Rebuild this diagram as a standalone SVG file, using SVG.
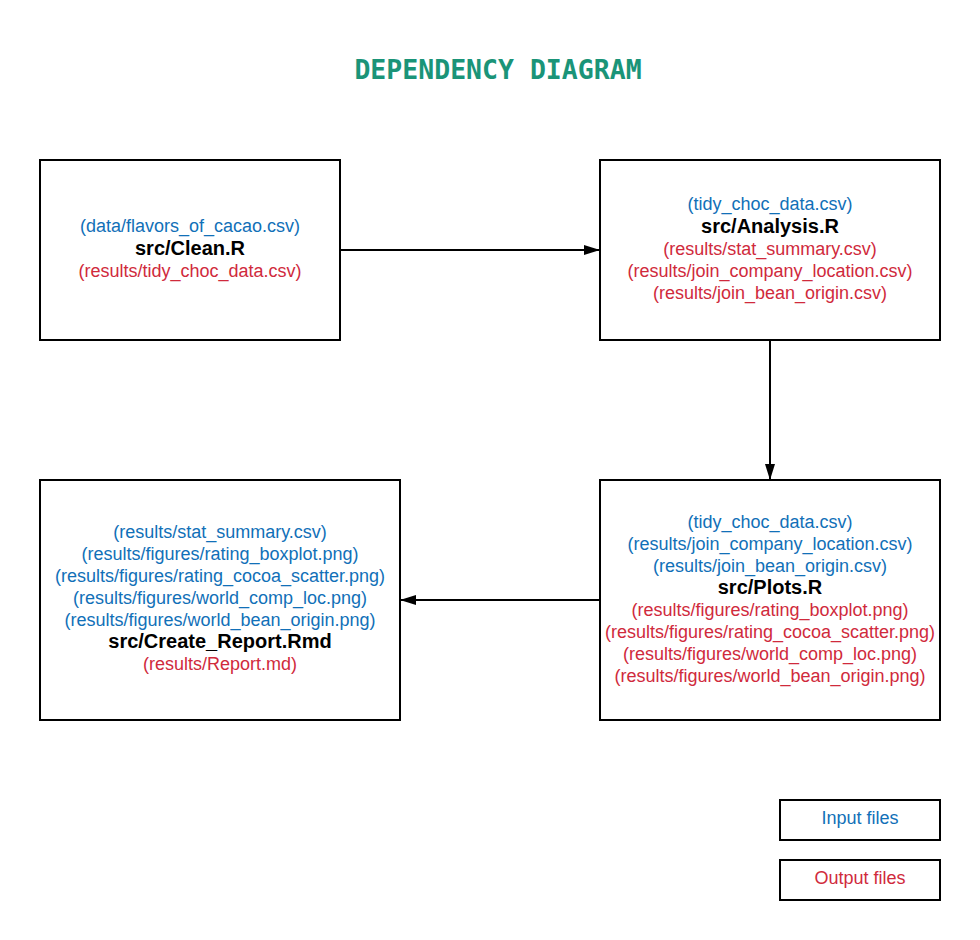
<svg xmlns="http://www.w3.org/2000/svg" width="980" height="940" viewBox="0 0 980 940">
<style>
.box{fill:#fff;stroke:#000;stroke-width:2}
text{font-family:"Liberation Sans",Arial,sans-serif;font-size:18px;text-anchor:middle}
.in{fill:#1170b8}
.out{fill:#d02a3c}
.main{fill:#000;font-weight:bold;font-size:20px}
.title{font-family:"DejaVu Sans Mono","Liberation Mono",monospace;font-weight:bold;font-size:26.5px;fill:#1a9478}
.conn{stroke:#000;stroke-width:2;fill:none}
</style>
<defs>
<marker id="ah" viewBox="0 0 16 10" refX="16" refY="5" markerWidth="16" markerHeight="10" markerUnits="userSpaceOnUse" orient="auto">
<path d="M0,0 L16,5 L0,10 Z" fill="#000"/>
</marker>
</defs>
<rect width="980" height="940" fill="#fff"/>
<text class="title" x="498" y="78.5">DEPENDENCY DIAGRAM</text>
<g id="connectors">
<line class="conn" x1="341" y1="250" x2="600" y2="250" marker-end="url(#ah)"/>
<line class="conn" x1="770" y1="341" x2="770" y2="480" marker-end="url(#ah)"/>
<line class="conn" x1="599" y1="600" x2="400" y2="600" marker-end="url(#ah)"/>
</g>
<g id="clean">
<rect class="box" x="40" y="160" width="300" height="180"/>
<text class="in" x="190" y="231.5">(data/flavors_of_cacao.csv)</text>
<text class="main" x="190" y="254.5">src/Clean.R</text>
<text class="out" x="190" y="276.5">(results/tidy_choc_data.csv)</text>
</g>
<g id="analysis">
<rect class="box" x="600" y="160" width="340" height="180"/>
<text class="in" x="770" y="209.5">(tidy_choc_data.csv)</text>
<text class="main" x="770" y="232.5">src/Analysis.R</text>
<text class="out" x="770" y="254.5">(results/stat_summary.csv)</text>
<text class="out" x="770" y="276.5">(results/join_company_location.csv)</text>
<text class="out" x="770" y="298.5">(results/join_bean_origin.csv)</text>
</g>
<g id="plots">
<rect class="box" x="600" y="480" width="340" height="240"/>
<text class="in" x="770" y="527.5">(tidy_choc_data.csv)</text>
<text class="in" x="770" y="549.5">(results/join_company_location.csv)</text>
<text class="in" x="770" y="571.5">(results/join_bean_origin.csv)</text>
<text class="main" x="770" y="593.5">src/Plots.R</text>
<text class="out" x="770" y="615.5">(results/figures/rating_boxplot.png)</text>
<text class="out" x="770" y="637.5">(results/figures/rating_cocoa_scatter.png)</text>
<text class="out" x="770" y="659.5">(results/figures/world_comp_loc.png)</text>
<text class="out" x="770" y="681.5">(results/figures/world_bean_origin.png)</text>
</g>
<g id="report">
<rect class="box" x="40" y="480" width="360" height="240"/>
<text class="in" x="220" y="537.5">(results/stat_summary.csv)</text>
<text class="in" x="220" y="559.5">(results/figures/rating_boxplot.png)</text>
<text class="in" x="220" y="581.5">(results/figures/rating_cocoa_scatter.png)</text>
<text class="in" x="220" y="603.5">(results/figures/world_comp_loc.png)</text>
<text class="in" x="220" y="625.5">(results/figures/world_bean_origin.png)</text>
<text class="main" x="220" y="647.5">src/Create_Report.Rmd</text>
<text class="out" x="220" y="669.5">(results/Report.md)</text>
</g>
<g id="legend-input">
<rect class="box" x="780" y="800" width="160" height="40"/>
<text class="in" x="860" y="824">Input files</text>
</g>
<g id="legend-output">
<rect class="box" x="780" y="860" width="160" height="40"/>
<text class="out" x="860" y="884">Output files</text>
</g>
</svg>
